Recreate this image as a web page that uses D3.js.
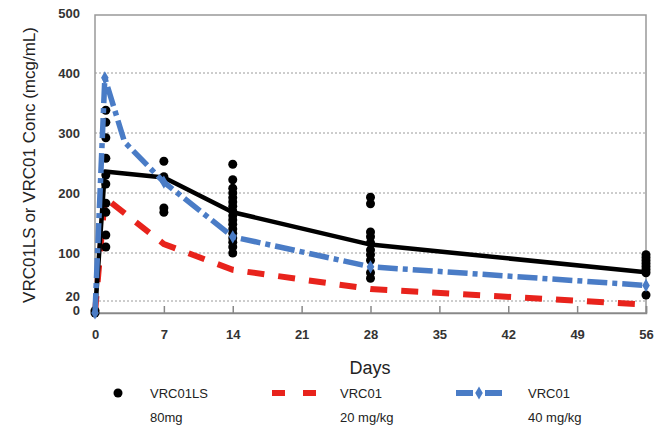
<!DOCTYPE html>
<html>
<head>
<meta charset="utf-8">
<script src="https://cdn.jsdelivr.net/npm/d3@7"></script>
<style>
  body { margin: 0; background: #fff; }
  svg { display: block; font-family: "Liberation Sans", Arial, sans-serif; }
</style>
</head>
<body>
<svg width="662" height="427"></svg>
<script>
// --- data ---
const xTicks = [0, 7, 14, 21, 28, 35, 42, 49, 56];
const yTicks = [0, 20, 100, 200, 300, 400, 500];
const gridValues = [20, 100, 200, 300, 400];

// VRC01LS 80mg mean line
const lsMeanDays = [0, 1, 7, 14, 28, 56];
const lsMeanConc = [0, 236, 226, 168, 114, 68];

// VRC01LS individual values
const lsDotDays = [0, 0,
  1, 1, 1, 1, 1, 1, 1, 1, 1, 1,
  7, 7, 7, 7,
  14, 14, 14, 14, 14, 14, 14, 14, 14, 14, 14, 14, 14, 14, 14, 14, 14,
  28, 28, 28, 28, 28, 28, 28, 28, 28, 28,
  56, 56, 56, 56, 56, 56, 56, 56];
const lsDotConc = [0, 4,
  338, 318, 292, 258, 230, 215, 183, 168, 130, 110,
  253, 227, 175, 168,
  248, 222, 208, 200, 192, 185, 178, 170, 162, 155, 148, 140, 133, 125, 118, 110, 100,
  193, 182, 135, 127, 117, 105, 97, 88, 67, 58,
  97, 92, 87, 82, 77, 72, 67, 30];

// VRC01 20 mg/kg
const v20Days = [0, 1, 7, 14, 28, 56];
const v20Conc = [0, 192, 115, 72, 40, 14];

// VRC01 40 mg/kg
const v40Days = [0, 1, 3, 7, 14, 28, 56];
const v40Conc = [0, 392, 285, 218, 127, 77, 46];

const svg = d3.select("svg");
const plot = { left: 95, right: 646, top: 13, bottom: 313 };

const x = d3.scaleLinear().domain([0, 56]).range([plot.left, plot.right]);
const y = d3.scaleLinear().domain([0, 500]).range([plot.bottom, plot.top]);

// gridlines
svg.append("g")
  .selectAll("line")
  .data(gridValues)
  .enter()
  .append("line")
  .attr("x1", plot.left)
  .attr("x2", plot.right)
  .attr("y1", d => y(d))
  .attr("y2", d => y(d))
  .attr("stroke", "#9a9a9a")
  .attr("stroke-width", 1)
  .attr("stroke-dasharray", "2,2");

// plot frame
svg.append("rect")
  .attr("x", plot.left)
  .attr("y", y(500) + 2)
  .attr("width", plot.right - plot.left)
  .attr("height", plot.bottom - y(500) - 2)
  .attr("fill", "none")
  .attr("stroke", "#999")
  .attr("stroke-width", 1.5);

// x axis (ticks pointing inward)
const xAxis = d3.axisBottom(x).tickValues(xTicks).tickSize(-7).tickPadding(17);
const gx = svg.append("g")
  .attr("transform", "translate(0," + plot.bottom + ")")
  .call(xAxis);
gx.select(".domain").attr("stroke", "#888").attr("stroke-width", 1.5);
gx.selectAll(".tick line").attr("stroke", "#888").attr("stroke-width", 1.5);
gx.selectAll(".tick text")
  .attr("font-size", "13px")
  .attr("font-weight", "bold")
  .attr("fill", "#333")
  .attr("font-family", "Liberation Sans, Arial, sans-serif");

// y axis
const yAxis = d3.axisLeft(y).tickValues(yTicks).tickSize(0).tickPadding(15);
const gy = svg.append("g")
  .attr("transform", "translate(" + plot.left + ",0)")
  .call(yAxis);
gy.select(".domain").remove();
gy.selectAll(".tick text")
  .attr("font-size", "13px")
  .attr("font-weight", "bold")
  .attr("fill", "#333")
  .attr("font-family", "Liberation Sans, Arial, sans-serif")
  .attr("dy", d => d === 0 ? "0.15em" : (d === 20 ? "-0.05em" : "0.32em"));

// axis titles
svg.append("text")
  .attr("x", 370)
  .attr("y", 374)
  .attr("text-anchor", "middle")
  .attr("font-size", "18px")
  .attr("fill", "#222")
  .text("Days");

svg.append("text")
  .attr("transform", "translate(35," + 165 + ") rotate(-90)")
  .attr("text-anchor", "middle")
  .attr("font-size", "17px")
  .attr("fill", "#222")
  .text("VRC01LS or VRC01 Conc (mcg/mL)");

const line = d3.line().x(d => x(d[0])).y(d => y(d[1]));

// VRC01 20 mg/kg - red dashed
svg.append("path")
  .datum(d3.zip(v20Days, v20Conc))
  .attr("d", line)
  .attr("fill", "none")
  .attr("stroke", "#e8231c")
  .attr("stroke-width", 6)
  .attr("stroke-dasharray", "17,14");

// VRC01LS mean line - black solid
svg.append("path")
  .datum(d3.zip(lsMeanDays, lsMeanConc))
  .attr("d", line)
  .attr("fill", "none")
  .attr("stroke", "#000")
  .attr("stroke-width", 4.5)
  .attr("stroke-linejoin", "round");

// VRC01LS dots
svg.append("g")
  .selectAll("circle")
  .data(d3.zip(lsDotDays, lsDotConc))
  .enter()
  .append("circle")
  .attr("cx", d => x(d[0]) + (d[0] === 1 ? 1 : 0))
  .attr("cy", d => y(d[1]))
  .attr("r", 4.5)
  .attr("fill", "#000");

// VRC01 40 mg/kg - blue dash-dot with diamonds
svg.append("path")
  .datum(d3.zip(v40Days, v40Conc))
  .attr("d", line)
  .attr("fill", "none")
  .attr("stroke", "#4a7cc6")
  .attr("stroke-width", 5.5)
  .attr("stroke-dasharray", "20,5,5,5");

svg.append("g")
  .selectAll("path")
  .data(d3.zip(v40Days, v40Conc).filter(d => d[0] !== 3))
  .enter()
  .append("path")
  .attr("d", d3.symbol().type(d3.symbolDiamond).size(50))
  .attr("transform", d => "translate(" + x(d[0]) + "," + y(d[1]) + ")")
  .attr("fill", "#4a7cc6");

// legend
const legend = svg.append("g").attr("font-size", "13px").attr("fill", "#222");

legend.append("circle").attr("cx", 118).attr("cy", 393).attr("r", 4.5).attr("fill", "#000");
legend.append("text").attr("x", 150).attr("y", 398).text("VRC01LS");
legend.append("text").attr("x", 150).attr("y", 422).text("80mg");

legend.append("line")
  .attr("x1", 272).attr("x2", 320).attr("y1", 393).attr("y2", 393)
  .attr("stroke", "#e8231c").attr("stroke-width", 6).attr("stroke-dasharray", "13,18");
legend.append("text").attr("x", 340).attr("y", 398).text("VRC01");
legend.append("text").attr("x", 340).attr("y", 422).text("20 mg/kg");

legend.append("line")
  .attr("x1", 456).attr("x2", 502).attr("y1", 393).attr("y2", 393)
  .attr("stroke", "#4a7cc6").attr("stroke-width", 6).attr("stroke-dasharray", "17,12,17");
legend.append("path")
  .attr("d", d3.symbol().type(d3.symbolDiamond).size(50))
  .attr("transform", "translate(479,393)")
  .attr("fill", "#4a7cc6");
legend.append("text").attr("x", 528).attr("y", 398).text("VRC01");
legend.append("text").attr("x", 528).attr("y", 422).text("40 mg/kg");
</script>
</body>
</html>
